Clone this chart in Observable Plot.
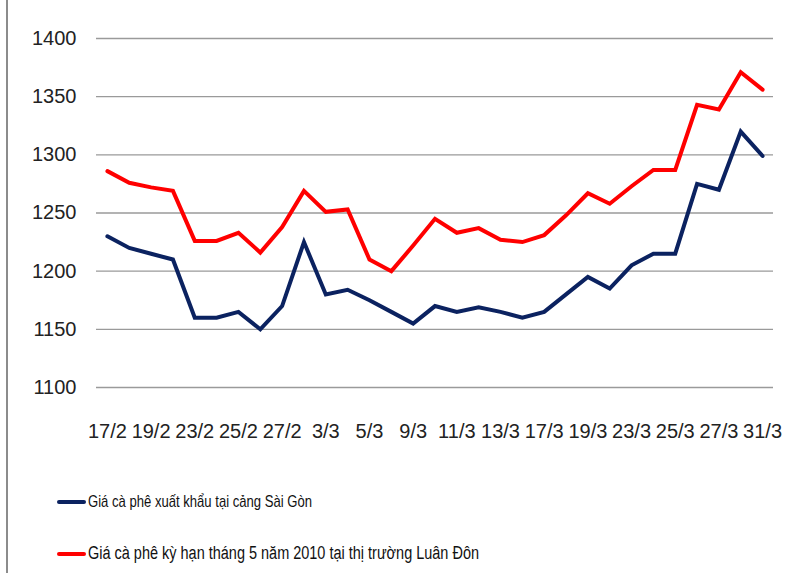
<!DOCTYPE html>
<html>
<head>
<meta charset="utf-8">
<script src="https://cdn.jsdelivr.net/npm/d3@7"></script>
<script src="https://cdn.jsdelivr.net/npm/@observablehq/plot@0.6"></script>
<style>
  html, body { margin: 0; padding: 0; background: #fff; }
  #wrap { position: relative; width: 785px; height: 573px; overflow: hidden; font-family: "Liberation Sans", Arial, sans-serif; }
  #border { position: absolute; left: 6px; top: 0; width: 0; height: 573px; border-left: 2px solid #8c8c8c; }
  #chart { position: absolute; left: 0; top: 0; }
  .leg { position: absolute; left: 57px; display: flex; align-items: center; white-space: nowrap; color: #111; }
  .sw { width: 29px; height: 4px; border-radius: 2px; margin-right: 2px; flex: none; }
  .lt { display: inline-block; transform-origin: 0 50%; }
</style>
</head>
<body>
<div id="wrap">
  <div id="chart"></div>
  <div id="border"></div>
  <div class="leg" id="leg1" style="top:492px;"><div class="sw" style="background:#0b2260"></div><span class="lt" id="t1" style="font-size:17px;"></span></div>
  <div class="leg" id="leg2" style="top:543px;"><div class="sw" style="background:#ff0000"></div><span class="lt" id="t2" style="font-size:18px;"></span></div>
</div>
<script>
// Tick labels shown on the category axis (every second trading day)
const tickLabels = ["17/2","19/2","23/2","25/2","27/2","3/3","5/3","9/3","11/3","13/3","17/3","19/3","23/3","25/3","27/3","31/3"];

// Series names
const seriesNames = [
  "Giá cà phê xuất khẩu tại cảng Sài Gòn",
  "Giá cà phê kỳ hạn tháng 5 năm 2010 tại thị trường Luân Đôn"
];

// Giá cà phê xuất khẩu tại cảng Sài Gòn (31 trading days)
const saigon = [1230,1220,1215,1210,1160,1160,1165,1150,1170,1225,1180,1184,1175,1165,1155,1170,1165,1169,1165,1160,1165,1180,1195,1185,1205,1215,1215,1275,1270,1320,1299];

// Giá cà phê kỳ hạn tháng 5/2010 tại Luân Đôn
const london = [1286,1276,1272,1269,1226,1226,1233,1216,1238,1269,1251,1253,1210,1200,1222,1245,1233,1237,1227,1225,1231,1248,1267,1258,1273,1287,1287,1343,1339,1371,1356];

const yTicks = [1100,1150,1200,1250,1300,1350,1400];

const colors = ["#0b2260", "#ff0000"];

const rows = [];
saigon.forEach((v, i) => rows.push({i, v, s: seriesNames[0]}));
london.forEach((v, i) => rows.push({i, v, s: seriesNames[1]}));

const n = saigon.length;
const chart = Plot.plot({
  width: 785,
  height: 450,
  marginLeft: 96,
  marginRight: 12,
  marginTop: 38,
  marginBottom: 63,
  style: {fontFamily: "Liberation Sans, Arial, sans-serif", background: "transparent"},
  x: {type: "linear", domain: [-0.5, n - 0.5]},
  y: {domain: [1100, 1400]},
  color: {domain: seriesNames, range: colors},
  marks: [
    Plot.ruleY(yTicks, {stroke: "#9a9a9a", strokeWidth: 1.3}),
    Plot.axisY({ticks: yTicks, tickFormat: d => String(d), tickSize: 0, tickPadding: 20, fontSize: 20, fill: "#222", label: null}),
    Plot.axisX({ticks: d3.range(0, n, 2), tickFormat: d => tickLabels[d / 2], tickSize: 0, tickPadding: 36, fontSize: 20, fill: "#222", label: null}),
    Plot.line(rows, {x: "i", y: "v", z: "s", stroke: "s", strokeWidth: 4, strokeLinejoin: "miter", strokeMiterlimit: 4})
  ]
});
document.getElementById("chart").appendChild(chart);

// legend text, condensed to the reference widths
const t1 = document.getElementById("t1"), t2 = document.getElementById("t2");
t1.textContent = seriesNames[0];
t2.textContent = seriesNames[1];
[[t1, 224], [t2, 391]].forEach(([el, w]) => {
  const cur = el.getBoundingClientRect().width;
  if (cur > 0) el.style.transform = `scaleX(${w / cur})`;
});
</script>
</body>
</html>
